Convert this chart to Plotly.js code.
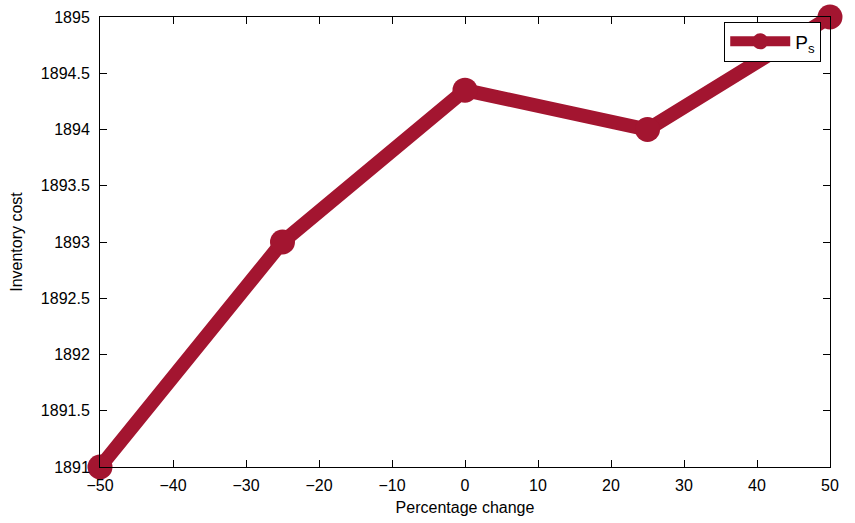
<!DOCTYPE html>
<html><head><meta charset="utf-8">
<script src="https://cdn.plot.ly/plotly-3.0.1.min.js"></script>
<style>body{margin:0;padding:0;}#chart{width:855px;height:523px;}</style>
</head><body><div id="chart"></div>
<script>
const percentChange = [-50, -25, 0, 25, 50];
const inventoryCost = [1891, 1893, 1894.35, 1894, 1895];
const xTicks = [-50, -40, -30, -20, -10, 0, 10, 20, 30, 40, 50];
const yTicks = [1891, 1891.5, 1892, 1892.5, 1893, 1893.5, 1894, 1894.5, 1895];
const xTickText = xTicks.map(v => v < 0 ? '\u2212' + Math.abs(v) : String(v));
const yTickText = yTicks.map(v => String(v));
const seriesName = 'P<sub>s</sub>';

const color = '#A31530';
const font = 'Liberation Sans, Arial, Helvetica, sans-serif';

Plotly.newPlot('chart', [{
  x: percentChange, y: inventoryCost, mode: 'lines+markers', name: seriesName,
  line: {color: color, width: 14},
  marker: {color: color, size: 25},
  cliponaxis: false
}], {
  width: 855, height: 523,
  margin: {l: 100, r: 25, t: 17, b: 56},
  paper_bgcolor: 'white', plot_bgcolor: 'white',
  font: {family: font, size: 16, color: '#000'},
  showlegend: true,
  legend: {x: 0.988, y: 0.99, xanchor: 'right', yanchor: 'top', bordercolor: '#000', borderwidth: 1, bgcolor: 'white', itemwidth: 60, font: {size: 19}},
  xaxis: {range: [-50, 50], tickvals: xTicks, ticktext: xTickText, ticks: 'inside', ticklen: 7, tickcolor: '#000',
    showline: true, linecolor: '#000', linewidth: 1, mirror: 'ticks', showgrid: false, zeroline: false,
    ticklabelstandoff: 4,
    title: {text: 'Percentage change', font: {size: 16}, standoff: 8}},
  yaxis: {range: [1891, 1895], tickvals: yTicks, ticktext: yTickText, ticks: 'inside', ticklen: 7, tickcolor: '#000',
    showline: true, linecolor: '#000', linewidth: 1, mirror: 'ticks', showgrid: false, zeroline: false,
    ticklabelstandoff: 6,
    title: {text: 'Inventory cost', font: {size: 16}, standoff: 14}}
}, {displayModeBar: false});
</script></body></html>
